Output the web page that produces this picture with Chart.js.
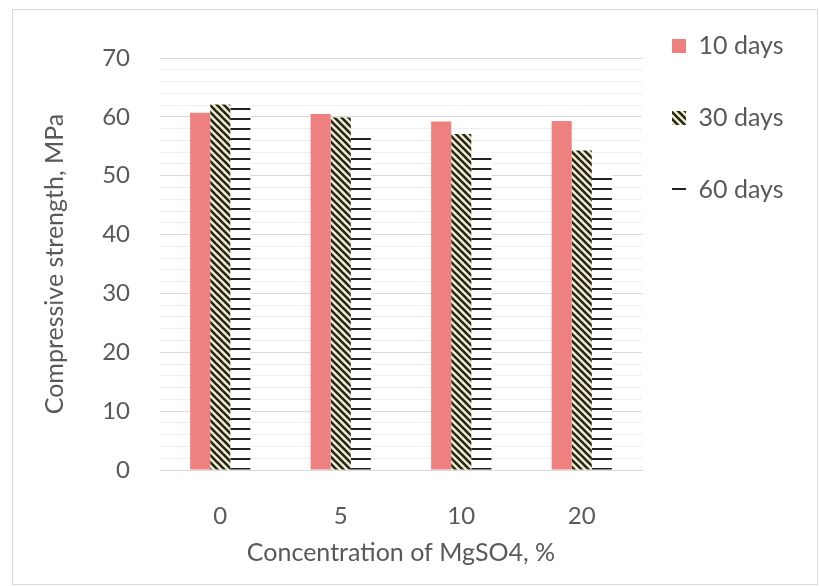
<!DOCTYPE html>
<html><head><meta charset="utf-8">
<script src="https://cdn.jsdelivr.net/npm/chart.js@4"></script>
<style>html,body{margin:0;padding:0;background:#fff}#wrap{width:819px;height:586px}</style>
</head><body><div id="wrap"><canvas id="c" width="819" height="586"></canvas></div>
<script>
// ---- data ----
const categories = ['0', '5', '10', '20'];
const seriesNames = ['10 days', '30 days', '60 days'];
const days10 = [60.7, 60.5, 59.2, 59.3];
const days30 = [62.1, 59.9, 57.1, 54.3];
const days60 = [62.4, 57.3, 54.0, 50.6];
const yMin = 0, yMax = 70, yLabelStep = 10, yGridStep = 2;
const xTitle = 'Concentration of MgSO4, %';
const yTitle = 'Compressive strength, MPa';

// ---- styles ----
const FONT = 'Lato';
const TEXT = '#595959';

function stripePattern() {
  const s = 7, c = document.createElement('canvas');
  c.width = s; c.height = s;
  const g = c.getContext('2d');
  g.fillStyle = '#f2eecd'; g.fillRect(0, 0, s, s);
  g.strokeStyle = '#26261c'; g.lineWidth = 2.6; g.lineCap = 'square';
  for (const o of [-s, 0, s]) { g.beginPath(); g.moveTo(o, 0); g.lineTo(o + s, s); g.stroke(); }
  return document.getElementById('c').getContext('2d').createPattern(c, 'repeat');
}
function dashPattern() {
  const s = 10, c = document.createElement('canvas');
  c.width = s; c.height = s;
  const g = c.getContext('2d');
  g.fillStyle = '#ffffff'; g.fillRect(0, 0, s, s);
  g.fillStyle = '#222222'; g.fillRect(0, 8, s, 3);
  return document.getElementById('c').getContext('2d').createPattern(c, 'repeat');
}

const frame = {
  id: 'frame',
  beforeDraw(chart) {
    const ctx = chart.ctx;
    ctx.save();
    ctx.fillStyle = '#fff'; ctx.fillRect(0, 0, chart.width, chart.height);
    ctx.strokeStyle = '#d9d9d9'; ctx.lineWidth = 1;
    ctx.strokeRect(12.5, 9.5, 805, 575);
    ctx.restore();
  }
};
const legendPlace = {
  id: 'legendPlace',
  afterLayout(chart) {
    const lg = chart.legend; if (!lg) return;
    const pad = lg.options.labels.padding;
    const fs = lg.options.labels.font.size;
    const h = lg.height, w = lg.width;
    lg.left = 672 - pad; lg.top = 46 - fs / 2 - pad;
    lg.right = lg.left + w; lg.bottom = lg.top + Math.max(h, 300);
  }
};

new Chart(document.getElementById('c'), {
  type: 'bar',
  data: {
    labels: categories,
    datasets: [
      { label: seriesNames[0], data: days10, backgroundColor: '#ee8080' },
      { label: seriesNames[1], data: days30, backgroundColor: stripePattern() },
      { label: seriesNames[2], data: days60, backgroundColor: dashPattern() }
    ]
  },
  options: {
    responsive: false,
    devicePixelRatio: 1,
    animation: false,
    layout: { padding: { top: 58, right: 177, left: 0, bottom: 0 } },
    datasets: { bar: { categoryPercentage: 0.5, barPercentage: 1.0, borderWidth: 0 } },
    plugins: {
      tooltip: { enabled: false },
      legend: {
        position: 'chartArea',
        align: 'start',
        labels: {
          boxWidth: 14, boxHeight: 14, padding: 47,
          color: TEXT, font: { family: FONT, size: 25 }
        }
      }
    },
    scales: {
      x: {
        grid: { display: false },
        border: { display: true, color: '#d9d9d9' },
        ticks: { color: TEXT, font: { family: FONT, size: 24 }, padding: 24 },
        title: { display: true, text: xTitle, color: TEXT, font: { family: FONT, size: 25 }, padding: { top: 0, bottom: 18 } },
        afterFit(s) { s.height = 116; }
      },
      y: {
        min: yMin, max: yMax,
        border: { display: false },
        grid: {
          drawTicks: false,
          color: c => (c.tick && c.tick.value % yLabelStep === 0) ? '#d9d9d9' : '#eeeeee'
        },
        ticks: {
          stepSize: yGridStep, autoSkip: false, padding: 30,
          color: TEXT, font: { family: FONT, size: 24 },
          callback: v => (v % yLabelStep === 0 ? String(v) : '')
        },
        title: { display: true, text: yTitle, color: TEXT, font: { family: FONT, size: 25 }, padding: { top: 40, bottom: 0 } },
        afterFit(s) { s.width = 160; }
      }
    }
  },
  plugins: [frame, legendPlace]
});
</script>
</body></html>
